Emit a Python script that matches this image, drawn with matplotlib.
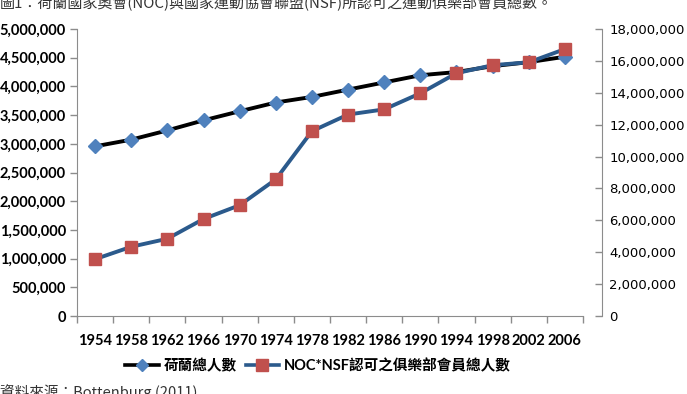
import matplotlib
matplotlib.use("Agg")
import matplotlib.pyplot as plt
from matplotlib.ticker import FuncFormatter, FixedLocator
from matplotlib.lines import Line2D

years = ["1954", "1958", "1962", "1966", "1970", "1974", "1978",
         "1982", "1986", "1990", "1994", "1998", "2002", "2006"]
population = [10640000, 11060000, 11640000, 12270000, 12840000, 13390000, 13740000,
              14200000, 14650000, 15100000, 15300000, 15670000, 15920000, 16260000]
members = [990000, 1206000, 1346000, 1690000, 1930000, 2380000, 3220000,
           3510000, 3600000, 3880000, 4230000, 4370000, 4420000, 4650000]
left_ticks = list(range(0, 5000001, 500000))
right_ticks = list(range(0, 18000001, 2000000))
pop_label = "荷蘭總人數"
mem_label = "NOC*NSF認可之俱樂部會員總人數"
title = "圖1：荷蘭國家奧會(NOC)與國家運動協會聯盟(NSF)所認可之運動俱樂部會員總數。"
source = "資料來源：Bottenburg (2011)"

W, H = 687, 394
fig = plt.figure(figsize=(W / 100, H / 100), dpi=100)
ax = fig.add_axes([77 / W, (H - 316) / H, (583 - 77) / W, (316 - 29) / H])
ax2 = ax.twinx()

lab_font = ['Lato', 'Noto Sans CJK TC']
axis_col = '#8c8c8c'
x = list(range(len(years)))

l2, = ax2.plot(x, population, color='black', lw=2.8, marker='D', ms=7.5,
               mfc='#4F81BD', mec='#4F81BD', zorder=3)
l1, = ax.plot(x, members, color='#2B5A8C', lw=2.8, marker='s', ms=9,
              mfc='#C0504D', mec='#C0504D', zorder=3)
ax.set_zorder(ax2.get_zorder() + 1)
ax.patch.set_visible(False)

ax.set_xlim(-0.5, len(years) - 0.5)
ax.set_ylim(0, 5000000)
ax2.set_ylim(0, 18000000)

fmt = FuncFormatter(lambda v, p: f"{int(v):,}")
ax.yaxis.set_major_locator(FixedLocator(left_ticks))
ax.yaxis.set_major_formatter(fmt)
ax2.yaxis.set_major_locator(FixedLocator(right_ticks))
ax2.yaxis.set_major_formatter(fmt)

ax.xaxis.set_major_locator(FixedLocator([i - 0.5 for i in range(len(years) + 1)]))
ax.xaxis.set_major_formatter(FuncFormatter(lambda v, p: ""))
ax.xaxis.set_minor_locator(FixedLocator(x))
ax.set_xticklabels(years, minor=True)
ax.tick_params(axis='x', which='major', direction='out', length=5, color=axis_col, width=1)
ax.tick_params(axis='x', which='minor', length=0, pad=13, labelsize=10.5)
ax.tick_params(axis='y', direction='out', length=5, color=axis_col, width=1, pad=3, labelsize=10.5)
ax2.tick_params(axis='y', direction='in', length=5, color=axis_col, width=1, pad=5, labelsize=9.5)

for lab in ax.get_xticklabels(minor=True) + ax.get_yticklabels() + ax2.get_yticklabels():
    lab.set_fontfamily(lab_font)
    lab.set_fontweight('bold')

for sp in ['top', 'right']:
    ax.spines[sp].set_visible(False)
for sp in ['top', 'left', 'bottom']:
    ax2.spines[sp].set_visible(False)
ax.spines['left'].set_color(axis_col)
ax.spines['bottom'].set_color(axis_col)
ax2.spines['right'].set_color(axis_col)
ax2.spines['right'].set_position(('outward', 14))

h1 = Line2D([], [], color='black', lw=2.6, marker='D', ms=6.5, mfc='#4F81BD', mec='#4F81BD')
h2 = Line2D([], [], color='#2B5A8C', lw=2.6, marker='s', ms=8, mfc='#C0504D', mec='#C0504D')
leg = fig.legend([h1, h2], [pop_label, mem_label], ncol=2, loc='center',
                 bbox_to_anchor=(318 / W, (H - 366) / H), frameon=False,
                 handlelength=2.3, handletextpad=0.35, columnspacing=0.6,
                 prop={'family': lab_font, 'weight': 'bold', 'size': 10.5})

fig.text(0, 1 - 7 / H, title, ha='left', va='baseline', fontsize=10.8,
         family=['Noto Sans CJK TC', 'DejaVu Sans'], color='#333333')
fig.text(0, 1 - 384 / H, source, ha='left', va='top', fontsize=10.5,
         family=['Noto Sans CJK TC', 'DejaVu Sans'], color='#333333')

fig.savefig('out.png', dpi=100)
